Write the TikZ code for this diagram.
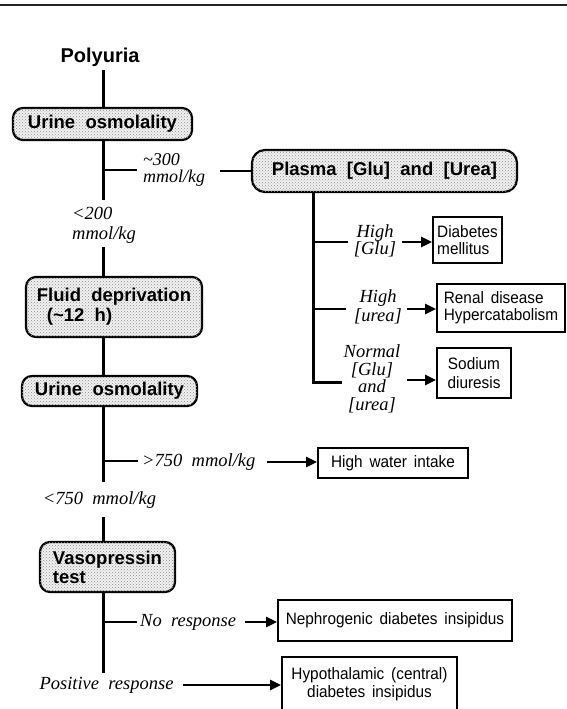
\documentclass[tikz,border=0pt]{standalone}
\usepackage{fontspec}
\setmainfont{Liberation Serif}
\newfontfamily\sansb[WordSpace=2]{Liberation Sans}
\newfontfamily\sansr[WordSpace=1.6,FakeStretch=0.93]{Liberation Sans}
\newfontfamily\serifi[WordSpace=2]{Liberation Serif}
\usetikzlibrary{arrows.meta,patterns,calc}
\tikzset{
  gbox/.style={draw, line width=2.2pt, rounded corners=10pt, fill=gray!10,
    postaction={pattern=crosshatch dots, pattern color=black!45},
    inner sep=0pt, align=left, font=\sansb\bfseries\fontsize{18.5}{20}\selectfont},
  rbox/.style={draw, line width=2pt, inner sep=0pt,
    font=\sansr\fontsize{16.5}{17}\selectfont},
  lbl/.style={inner sep=0pt, font=\serifi\itshape\fontsize{18.5}{17}\selectfont},
  ln/.style={line width=3pt},
  bl/.style={line width=2.6pt},
  arr/.style={line width=2.5pt, -{Triangle[length=11pt,width=10pt]}},
}
\begin{document}
\begin{tikzpicture}[x=1pt,y=-1pt]
\useasboundingbox (0,0) rectangle (567,709);
% top rule
\coordinate (rl) at (0,5);
\coordinate (rr) at (567,5);
\draw[line width=1.3pt, black!85] (rl) -- (rr);

% main nodes
\node[inner sep=0pt, font=\sansb\bfseries\fontsize{20}{22}\selectfont] (poly) at (100,57) {Polyuria};
\node[gbox, minimum width=179pt, minimum height=32pt] (uo1) at (102.5,124) {Urine osmolality};
\node[gbox, rounded corners=13pt, minimum width=265pt, minimum height=42pt] (plasma) at (384.5,171) {Plasma [Glu] and [Urea]};
\node[gbox, minimum width=176pt, minimum height=60pt] (fluid) at (114,307) {Fluid deprivation\\\hspace{10pt}(\textasciitilde12 h)};
\node[gbox, minimum width=175pt, minimum height=30pt] (uo2) at (109.5,391) {Urine osmolality};
\node[gbox, minimum width=135pt, minimum height=50pt, font=\sansb\bfseries\fontsize{18.5}{19}\selectfont] (vaso) at (107.5,567) {Vasopressin\\test};

\node[rbox, minimum width=69pt, minimum height=46pt, align=left] (dm) at (467.5,240) {Diabetes\\mellitus};
\node[rbox, minimum width=128pt, minimum height=48pt, align=left] (renal) at (501,308) {Renal disease\\Hypercatabolism};
\node[rbox, minimum width=74pt, minimum height=50pt, align=center, font=\sansr\fontsize{16.5}{19}\selectfont] (sodium) at (474,373) {Sodium\\diuresis};
\node[rbox, minimum width=150pt, minimum height=30pt] (water) at (393,463) {High water intake};
\node[rbox, minimum width=234pt, minimum height=41pt] (nephro) at (395,620.5) {Nephrogenic diabetes insipidus};
\node[rbox, minimum width=175pt, minimum height=54pt, align=center, font=\sansr\fontsize{16.5}{18}\selectfont] (hypo) at (369.5,684) {Hypothalamic (central)\\diabetes insipidus};

% labels
\node[lbl, anchor=west, align=left, font=\serifi\itshape\fontsize{18}{16.5}\selectfont] (l300) at (143,170) {\textasciitilde300\\mmol/kg};
\node[lbl, align=left, font=\serifi\itshape\fontsize{18.5}{20}\selectfont] (l200) at (104,225) {<200\\mmol/kg};
\node[lbl, anchor=west] (l750a) at (142,462) {>750 mmol/kg};
\node[lbl] (l750b) at (99.5,500) {<750 mmol/kg};
\node[lbl, align=center] (lglu) at (375,241) {High\\{}[Glu]};
\node[lbl, align=center, font=\serifi\itshape\fontsize{18.5}{19}\selectfont] (lurea) at (378,307) {High\\{}[urea]};
\node[lbl, align=center, font=\serifi\itshape\fontsize{18.5}{17.5}\selectfont] (lnorm) at (372,379) {Normal\\{}[Glu]\\and\\{}[urea]};
\node[lbl, anchor=west] (lno) at (140,622) {No response};
\node[lbl] (lpos) at (106.5,685) {Positive response};

% main trunk coordinates
\coordinate (t0) at (103,70);
\coordinate (b300) at (103,170);
\coordinate (b300e) at (137,170);
\coordinate (c1) at (103,200);
\coordinate (c2) at (103,247);
\coordinate (b750) at (103,461);
\coordinate (b750e) at (138,461);
\coordinate (c3) at (103,482);
\coordinate (c4) at (103,517);
\coordinate (bno) at (103,622);
\coordinate (bnoe) at (137,622);
\coordinate (c5) at (103,673);

\draw[ln] (t0) -- (t0 |- uo1.north);
\draw[ln] (b300 |- uo1.south) -- (c1);
\draw[bl] (b300) -- (b300e);
\draw[ln] (c2) -- (c2 |- fluid.north);
\draw[ln] (c2 |- fluid.south) -- (c2 |- uo2.north);
\draw[ln] (c3 |- uo2.south) -- (c3);
\draw[bl] (b750) -- (b750e);
\draw[ln] (c4) -- (c4 |- vaso.north);
\draw[ln] (c5 |- vaso.south) -- (c5);
\draw[bl] (bno) -- (bnoe);

% ~300 to plasma
\coordinate (p0) at (220,171);
\draw[bl] (p0) -- (plasma.west);

% plasma trunk
\coordinate (pt) at (313,0);
\coordinate (pc) at (313,382);
\coordinate (pce) at (342,382);
\coordinate (pg) at (313,242);
\coordinate (pge) at (348,242);
\coordinate (pu) at (313,309);
\coordinate (pue) at (346,309);
\draw[ln] (pt |- plasma.south) -- (pc) -- (pce);
\draw[bl] (pg) -- (pge);
\draw[bl] (pu) -- (pue);

% arrows
\coordinate (ag) at (402,242);
\coordinate (au) at (407,309);
\coordinate (an) at (407,380);
\coordinate (aw) at (267,462);
\coordinate (ano) at (245,622);
\coordinate (apos) at (183,685);
\draw[arr] (ag) -- (ag -| dm.west);
\draw[arr] (au) -- (au -| renal.west);
\draw[arr] (an) -- (an -| sodium.west);
\draw[arr] (aw) -- (aw -| water.west);
\draw[arr] (ano) -- (ano -| nephro.west);
\draw[arr] (apos) -- (apos -| hypo.west);
\end{tikzpicture}
\end{document}
